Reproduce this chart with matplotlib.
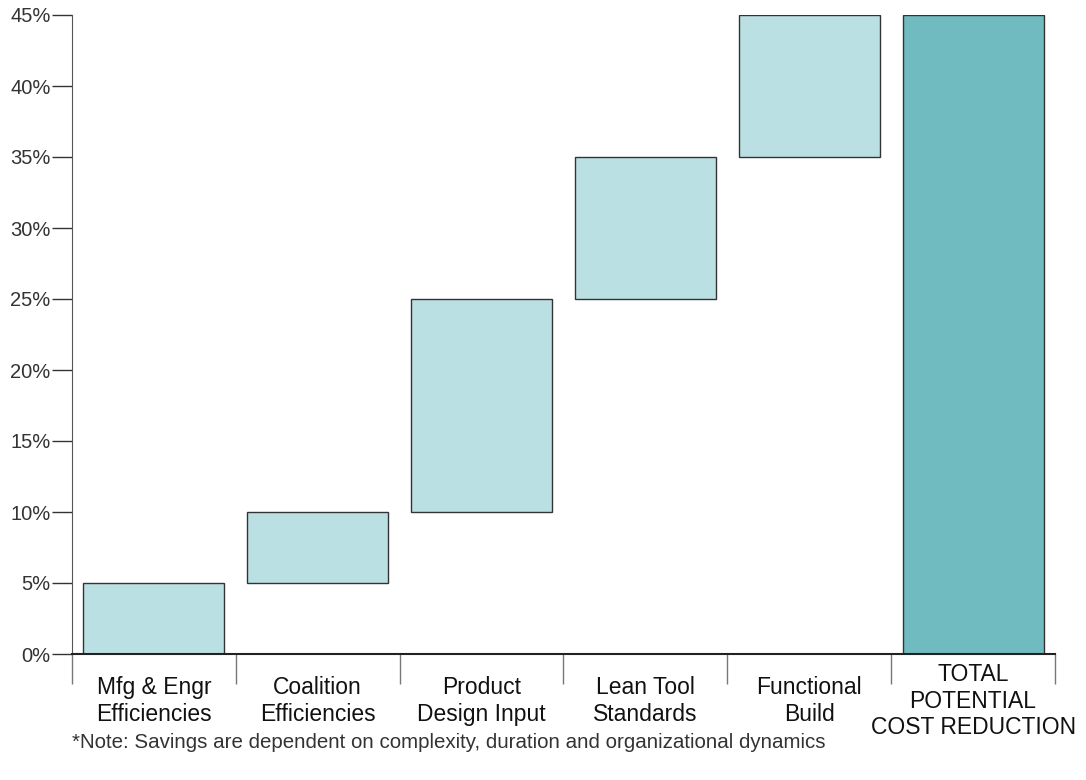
import matplotlib.pyplot as plt
import numpy as np

plt.rcParams['font.family'] = ['Liberation Sans', 'DejaVu Sans']

# Data
categories = ["Mfg & Engr\nEfficiencies", "Coalition\nEfficiencies", "Product\nDesign Input",
              "Lean Tool\nStandards", "Functional\nBuild", "TOTAL\nPOTENTIAL\nCOST REDUCTION"]
savings = [5, 5, 15, 10, 10]
total = 45
yticks = [0, 5, 10, 15, 20, 25, 30, 35, 40, 45]

fig = plt.figure(figsize=(10.86, 7.8), dpi=100)
ax_h = 654 - 15
ax = fig.add_axes([72 / 1086, 1 - 654 / 780, (1055 - 72) / 1086, ax_h / 780])

x = np.arange(len(categories))
bottoms = np.concatenate([[0], np.cumsum(savings)[:-1]])
ax.bar(x[:-1], savings, bottom=bottoms, width=0.86, color="#bbe0e3",
       edgecolor="#333333", linewidth=1)
ax.bar(x[-1], total, width=0.86, color="#6fbbbf", edgecolor="#333333", linewidth=1)

ax.set_xlim(-0.5, len(categories) - 0.5)
ax.set_ylim(0, 45)
ax.set_yticks(yticks)
ax.set_yticklabels([f"{v}%" for v in yticks], fontsize=14.5, color="#333333")
ax.tick_params(axis="y", direction="out", length=14.4, width=1, color="#333333", pad=1)

# category boundaries as long ticks
ax.set_xticks(np.arange(len(categories) + 1) - 0.5)
ax.set_xticklabels([])
ax.tick_params(axis="x", which="major", direction="out", length=21.6, width=1, color="#777777")

# category labels centred between boundaries
for xi, lab in zip(x, categories):
    ax.text(xi, -47 / ax_h, lab, transform=ax.get_xaxis_transform(), ha="center", va="center",
            fontsize=16.5, color="#111111", linespacing=1.2)

for side in ["top", "right"]:
    ax.spines[side].set_visible(False)
ax.spines["left"].set_color("#555555")
ax.spines["bottom"].set_color("#222222")
ax.spines["bottom"].set_linewidth(1.5)

fig.text(72 / 1086, 1 - 742 / 780, "*Note: Savings are dependent on complexity, duration and organizational dynamics",
         fontsize=14.8, color="#333333", va="center")

fig.savefig("out.png", dpi=100)
